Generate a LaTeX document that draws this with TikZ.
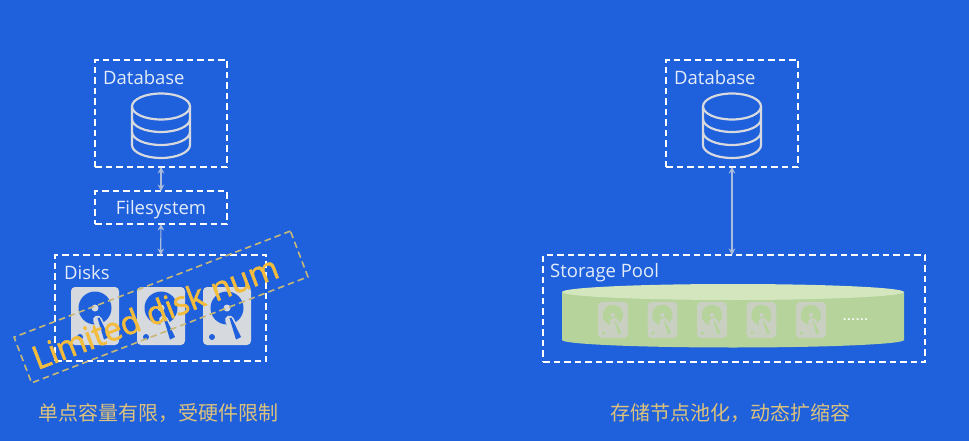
\documentclass[tikz,border=0pt]{standalone}
\usepackage{fontspec}
\setmainfont{Open Sans}
\newfontfamily\cjk{Noto Sans CJK SC}
\newfontfamily\stampfont[FakeBold=1.6]{Open Sans}
\usetikzlibrary{arrows.meta,calc,positioning}
\definecolor{fondo}{HTML}{1F60DC}
\definecolor{tinta}{HTML}{E3ECF8}
\definecolor{gris}{HTML}{D6D9DE}
\definecolor{flecha}{HTML}{A9BCDC}
\definecolor{oro}{HTML}{F4BC3C}
\definecolor{arena}{HTML}{C8B878}
\definecolor{titulo}{HTML}{DCC27C}
\definecolor{verde}{HTML}{B5D39A}
\definecolor{verdeclaro}{HTML}{D3E6BE}
\definecolor{grisverde}{HTML}{C9D0C2}
\tikzset{
  dashbox/.style={draw=white,line width=1.6pt,dash pattern=on 6.5pt off 4pt,inner sep=0pt,outer sep=0pt},
  boxlabel/.style={text=tinta,font=\fontsize{18.5}{20}\selectfont,inner sep=0pt,anchor=west},
  caption/.style={text=titulo,font=\cjk\fontsize{20}{22}\selectfont,inner sep=0pt},
  link/.style={<->,>={Stealth[length=6.5pt,width=6.5pt]},flecha,line width=1.2pt},
  pics/dbicon/.style={code={
    \draw[gris,line width=2.2pt] (0,-12.5) ellipse (29 and 13);
    \draw[gris,line width=2.2pt] (-29,-12.5) -- (-29,26) arc(180:0:29 and 13) -- (29,-12.5);
    \draw[gris,line width=2.2pt] (-29,0) arc(180:0:29 and 13);
    \draw[gris,line width=2.2pt] (-29,13) arc(180:0:29 and 13);
  }},
  pics/hddicon/.style 2 args={code={
    \fill[#1,rounded corners=4pt] (0,0) rectangle (48,58);
    \fill[#2] (24,21) circle (16.5);
    \fill[#1] (24,21) circle (3.5);
    \fill[#2] (9,50) circle (3);
    \draw[#1,line width=9pt,line cap=round] (26.5,33) -- (31,42);
    \fill[#2] (26.5,31) -- (28.5,30.5) -- (38,50) -- (33,52.5) -- cycle;
  }},
}
\begin{document}
\begin{tikzpicture}[x=1pt,y=-1pt]
  \fill[fondo] (0,0) rectangle (969,441);
  \useasboundingbox (0,0) rectangle (969,441);
  % left stack
  \node[dashbox,minimum width=132pt,minimum height=107pt] (dbleft) at (161,113.5) {};
  \node[dashbox,minimum width=132pt,minimum height=33pt] (fsbox) at (161,207.5) {};
  \node[dashbox,minimum width=211pt,minimum height=106pt] (disks) at (160.5,308) {};
  \node[boxlabel] (dbleftlabel) at (103,78) {Database};
  \node[text=tinta,font=\fontsize{18.5}{20}\selectfont,inner sep=0pt] (fslabel) at (161,209.5) {Filesystem};
  \node[boxlabel] (diskslabel) at (64,272.5) {Disks};
  \pic at (161,119) {dbicon};
  \draw[link] (dbleft) -- (fsbox);
  \draw[link] (fsbox) -- (disks);
  \foreach \x in {71,137,203}{\pic at (\x,287) {hddicon={gris}{fondo}};}
  % right stack
  \node[dashbox,minimum width=132pt,minimum height=107pt] (dbright) at (732,113.5) {};
  \node[dashbox,minimum width=382pt,minimum height=107pt] (pool) at (734,308.5) {};
  \node[boxlabel] (dbrightlabel) at (674,78) {Database};
  \node[boxlabel] (poollabel) at (550,272.5) {Storage Pool};
  \pic at (732,119) {dbicon};
  \draw[link] (dbright) -- (dbright|-pool.north);
  % pool drum
  \fill[verde] (562,292) -- (562,340) arc(180:0:171 and 7.5) -- (904,292) -- cycle;
  \fill[verdeclaro] (733,292) ellipse (171 and 8);
  \foreach \x in {598,647.5,697,746.5,796}{\pic[scale=0.62] at (\x,302) {hddicon={grisverde}{verde}};}
  \node[text=white,font=\fontsize{16}{18}\selectfont,inner sep=0pt] (moredisks) at (855.5,320) {......};
  % limit stamp
  \node[dashbox,draw=arena,rotate=21,minimum width=296pt,minimum height=49pt] (limitbox) at (161,307) {};
  \node[text=oro,rotate=21,font=\stampfont\fontsize{32.5}{34}\selectfont,inner sep=0pt] (limitlabel) at (155,312) {Limited disk num};
  % captions
  \node[caption] (captionleft) at (158.5,413) {单点容量有限，受硬件限制};
  \node[caption] (captionright) at (730,413) {存储节点池化，动态扩缩容};
\end{tikzpicture}
\end{document}
